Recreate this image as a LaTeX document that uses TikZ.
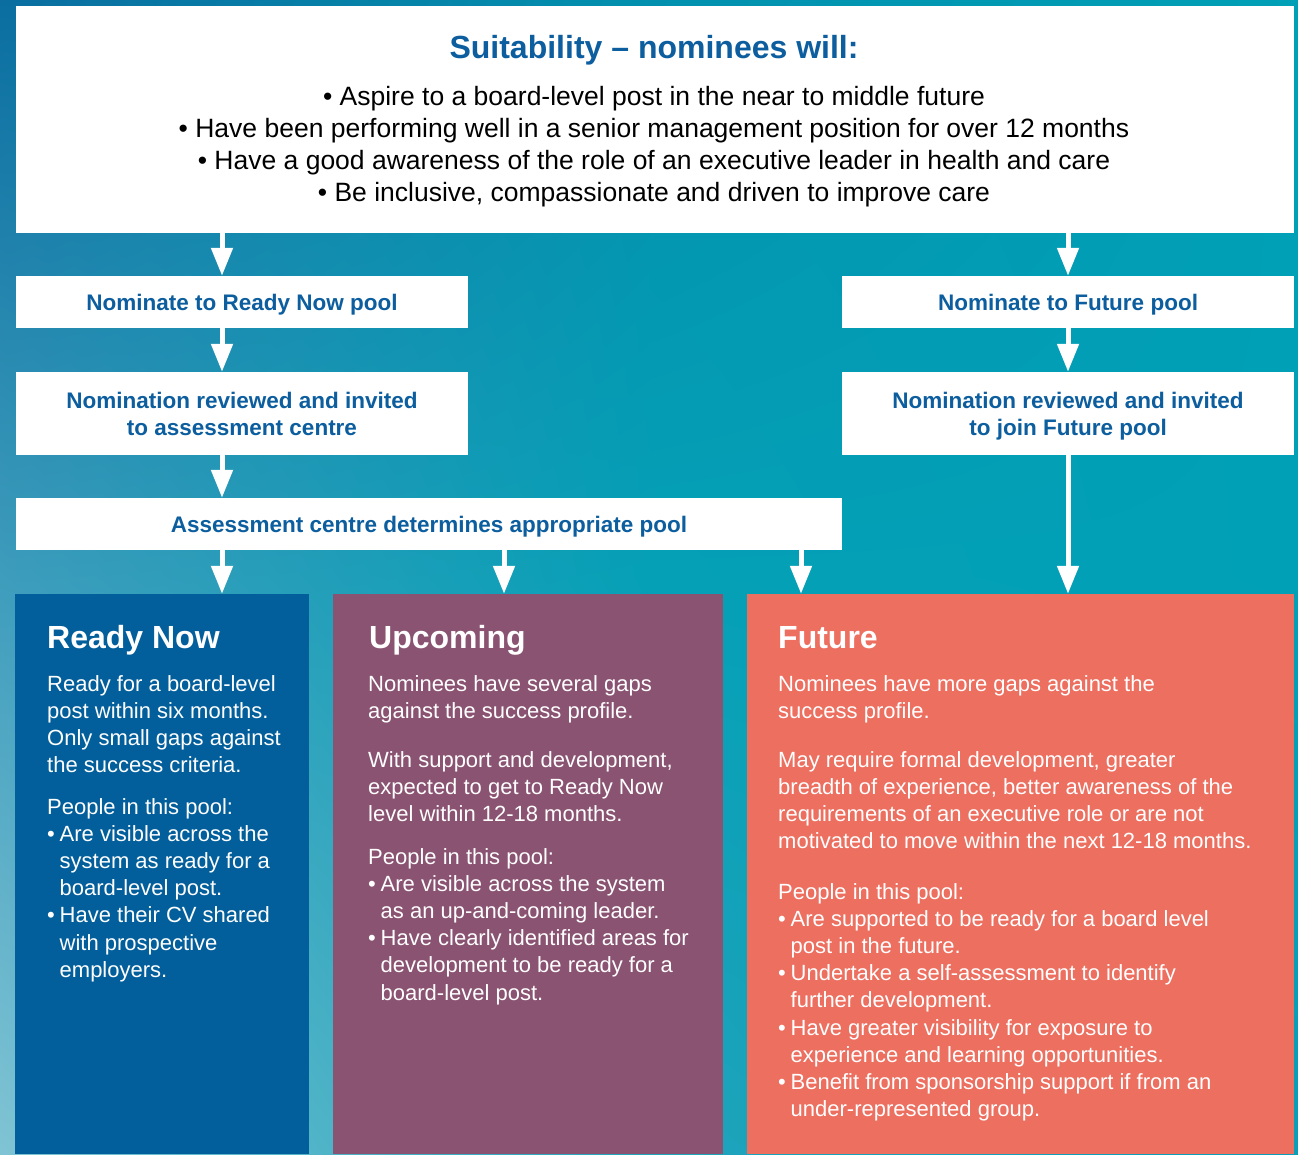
\documentclass[tikz,border=0pt]{standalone}
\usepackage{fontspec}
\setmainfont{Liberation Sans}
\usetikzlibrary{arrows.meta,shadings}
\definecolor{nblue}{HTML}{0C5E9E}
\definecolor{rnblue}{HTML}{035F9B}
\definecolor{upc}{HTML}{8A5372}
\definecolor{fuc}{HTML}{EC6F60}
\definecolor{cAA}{HTML}{0A6EA0}
\definecolor{cBA}{HTML}{0290AE}
\definecolor{cCA}{HTML}{00A0B6}
\definecolor{cAB}{HTML}{3E9CBC}
\definecolor{cBB}{HTML}{05A0B6}
\definecolor{cCB}{HTML}{00A0B6}
\definecolor{cAC}{HTML}{80C4D4}
\definecolor{cBC}{HTML}{20A4BB}
\definecolor{cCC}{HTML}{0A9EB8}
\newcommand\bulit{\makebox[12.5pt][l]{\textbullet}}
\newcommand\bulind{\hspace*{12.5pt}}
\begin{document}
\begin{tikzpicture}[x=1pt,y=-1pt,
 wbox/.style={draw=none,fill=white,inner sep=0pt,text=nblue,align=center,
   font=\fontsize{22.5}{27}\selectfont\bfseries},
 pbox/.style={draw=none,inner sep=0pt},
 arr/.style={draw=white,line width=5pt,-{Triangle[width=21pt,length=28pt]}},
 ptitle/.style={anchor=base west,inner sep=0pt,text=white,
   font=\fontsize{32}{38}\selectfont\bfseries},
 ptext/.style={anchor=base west,inner sep=0pt,text=white,align=left,
   font=\fontsize{22}{27.2}\selectfont}]
\useasboundingbox (0,0) rectangle (1298,1154);
% background gradient, piecewise
\shade[upper left=cAA,upper right=cBA,lower left=cAB,lower right=cBB] (0,0) rectangle (650.5,577.5);
\shade[upper left=cBA,upper right=cCA,lower left=cBB,lower right=cCB] (649.5,0) rectangle (1298,577.5);
\shade[upper left=cAB,upper right=cBB,lower left=cAC,lower right=cBC] (0,576.5) rectangle (650.5,1154);
\shade[upper left=cBB,upper right=cCB,lower left=cBC,lower right=cCC] (649.5,576.5) rectangle (1298,1154);

% top box
\node[pbox,fill=white,minimum width=1278pt,minimum height=227pt] (top) at (655,119.5) {};
\node[anchor=base,inner sep=0pt,text=nblue,font=\fontsize{32}{38}\selectfont\bfseries]
  (ttl) at (654,58) {Suitability -- nominees will:};
% multi-line nodes: base anchor = baseline of the last line
\node[anchor=base,inner sep=0pt,align=center,text=black,font=\fontsize{26.5}{32}\selectfont]
  (crit) at (654,201) {\textbullet\ Aspire to a board-level post in the near to middle future\\
  \textbullet\ Have been performing well in a senior management position for over 12 months\\
  \textbullet\ Have a good awareness of the role of an executive leader in health and care\\
  \textbullet\ Be inclusive, compassionate and driven to improve care};

% flow boxes
\node[wbox,text depth=0pt,minimum width=452pt,minimum height=52pt] (nrn) at (242,302) {Nominate to Ready Now pool};
\node[wbox,minimum width=452pt,minimum height=83pt] (rev1) at (242,413.5) {Nomination reviewed and invited\\to assessment centre};
\node[wbox,text depth=0pt,minimum width=826pt,minimum height=52pt] (assess) at (429,524) {Assessment centre determines appropriate pool};
\node[wbox,text depth=0pt,minimum width=452pt,minimum height=52pt] (nfu) at (1068,302) {Nominate to Future pool};
\node[wbox,text depth=0pt,minimum width=452pt,minimum height=83pt] (rev2) at (1068,413.5) {Nomination reviewed and invited\\to join Future pool};

% pool boxes
\node[pbox,fill=rnblue,minimum width=294pt,minimum height=560pt] (rn) at (162,874) {};
\node[pbox,fill=upc,minimum width=390pt,minimum height=560pt] (up) at (528,874) {};
\node[pbox,fill=fuc,minimum width=547pt,minimum height=560pt] (fu) at (1020.5,874) {};

% arrows
\coordinate (xL) at (222,0);
\coordinate (xM) at (504,0);
\coordinate (xF) at (801,0);
\coordinate (xR) at (1068,0);
\draw[arr] (top.south -| xL) -- (nrn.north -| xL);
\draw[arr] (nrn.south -| xL) -- (rev1.north -| xL);
\draw[arr] (rev1.south -| xL) -- (assess.north -| xL);
\draw[arr] (assess.south -| xL) -- (rn.north -| xL);
\draw[arr] (assess.south -| xM) -- (up.north -| xM);
\draw[arr] (assess.south -| xF) -- (fu.north -| xF);
\draw[arr] (top.south -| xR) -- (nfu.north -| xR);
\draw[arr] (nfu.south -| xR) -- (rev2.north -| xR);
\draw[arr] (rev2.south -| xR) -- (fu.north -| xR);

% Ready Now
\node[ptitle] (rnt) at (47,648) {Ready Now};
\node[ptext] (rn1) at (47,{691+3*27.2}) {Ready for a board-level\\post within six months.\\Only small gaps against\\the success criteria.};
\node[ptext] (rn2) at (47,{814+6*27.2}) {People in this pool:\\\bulit Are visible across the\\\bulind system as ready for a\\\bulind board-level post.\\\bulit Have their CV shared\\\bulind with prospective\\\bulind employers.};

% Upcoming
\node[ptitle] (upt) at (369,648) {Upcoming};
\node[ptext] (up1) at (368,{691+27.2}) {Nominees have several gaps\\against the success profile.};
\node[ptext] (up2) at (368,{767+2*27.2}) {With support and development,\\expected to get to Ready Now\\level within 12-18 months.};
\node[ptext] (up3) at (368,{864+5*27.2}) {People in this pool:\\\bulit Are visible across the system\\\bulind as an up-and-coming leader.\\\bulit Have clearly identified areas for\\\bulind development to be ready for a\\\bulind board-level post.};

% Future
\node[ptitle] (fut) at (778,648) {Future};
\node[ptext] (fu1) at (778,{691+27.2}) {Nominees have more gaps against the\\success profile.};
\node[ptext] (fu2) at (778,{767+3*27.2}) {May require formal development, greater\\breadth of experience, better awareness of the\\requirements of an executive role or are not\\motivated to move within the next 12-18 months.};
\node[ptext] (fu3) at (778,{899+8*27.2}) {People in this pool:\\\bulit Are supported to be ready for a board level\\\bulind post in the future.\\\bulit Undertake a self-assessment to identify\\\bulind further development.\\\bulit Have greater visibility for exposure to\\\bulind experience and learning opportunities.\\\bulit Benefit from sponsorship support if from an\\\bulind under-represented group.};
\end{tikzpicture}
\end{document}
